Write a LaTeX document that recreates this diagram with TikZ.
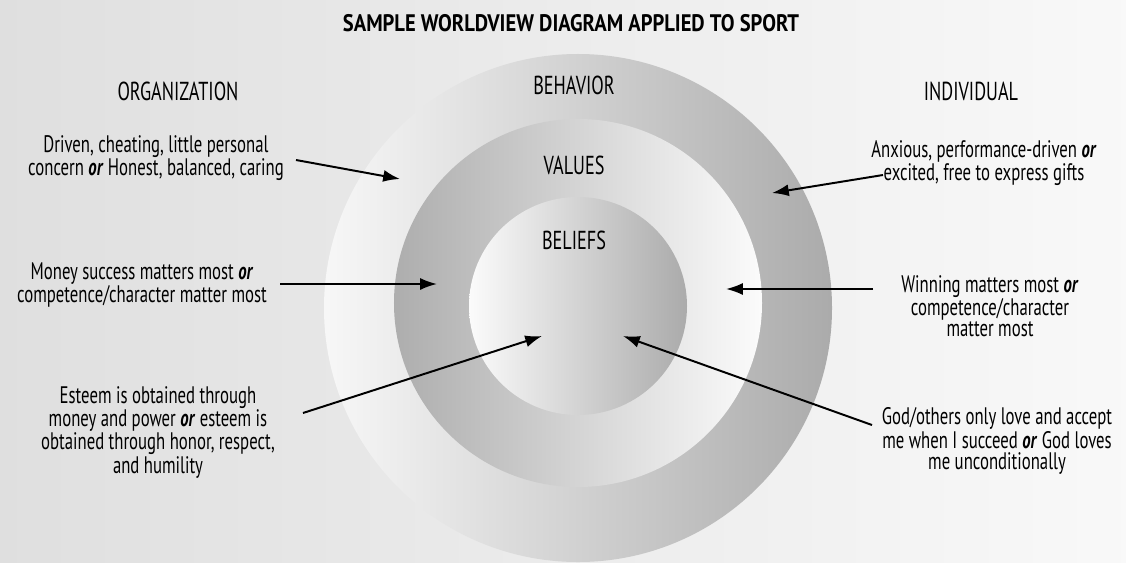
\documentclass[tikz,border=0pt]{standalone}
\usepackage{fontspec}
\setmainfont{PT Sans}[FakeStretch=0.70,BoldFeatures={FakeStretch=0.86}]
\usetikzlibrary{arrows.meta}
\newcommand{\boldor}{\textbf{\textit{or}}}

\begin{document}
\begin{tikzpicture}[x=0.25mm,y=-0.25mm]
    \tikzstyle{txt}=[align=center,inner sep=0pt,font=\fontsize{17}{15}\selectfont]
    \tikzstyle{head}=[inner sep=0pt,font=\fontsize{18.5}{15}\selectfont]
    \tikzstyle{arr}=[line width=1.4pt,-{Latex[length=4.2mm,width=3mm]}]

    \useasboundingbox (0,0) rectangle (1126,563);
    \shade[left color=gray!25,right color=gray!5] (0,0) rectangle (1126,563);

    \coordinate (o1) at (578,308);
    \coordinate (o2) at (578,303);
    \coordinate (o3) at (578,306);

    \begin{scope}
    \clip (0,0) rectangle (1126,563);
    \shade[left color=gray!6,right color=gray!66] (o1) circle (63.5mm);
    \shade[left color=gray!64,right color=gray!3] (o2) circle (46mm);
    \shade[left color=gray!3,right color=gray!66] (o3) circle (27.25mm);
    \end{scope}

    \node (title)[inner sep=0pt,font=\fontsize{17}{15}\selectfont\bfseries] at (571,23.5) {SAMPLE WORLDVIEW DIAGRAM APPLIED TO SPORT};
    \node (org)[head] at (178,91) {ORGANIZATION};
    \node (ind)[head] at (971,91) {INDIVIDUAL};
    \node (beh)[head] at (574,85) {BEHAVIOR};
    \node (val)[head] at (574,165) {VALUES};
    \node (bel)[head] at (574,240) {BELIEFS};

    \node (d1)[txt] at (156,158) {Driven, cheating, little personal\\concern \boldor{} Honest, balanced, caring};
    \node (d2)[txt] at (142,285) {Money success matters most \boldor\\competence/character matter most};
    \node (d3)[txt] at (158,432) {Esteem is obtained through\\money and power \boldor{} esteem is\\obtained through honor, respect,\\and humility};
    \node (d4)[txt] at (984,163) {Anxious, performance-driven \boldor\\excited, free to express gifts};
    \node (d5)[txt] at (990,306) {Winning matters most \boldor\\competence/character\\matter most};
    \node (d6)[txt] at (997,441) {God/others only love and accept\\me when I succeed \boldor{} God loves\\me unconditionally};

    \coordinate (s1) at (296,160);
    \coordinate (e1) at (400,179);
    \coordinate (s2) at (280,284);
    \coordinate (e2) at (437,284);
    \coordinate (s3) at (303,413);
    \coordinate (e3) at (542,336);
    \coordinate (s4) at (883,175);
    \coordinate (e4) at (772,193);
    \coordinate (s5) at (873,289);
    \coordinate (e5) at (726,289);
    \coordinate (s6) at (872,425);
    \coordinate (e6) at (623,336);

    \draw[arr] (s1) -- (e1);
    \draw[arr] (s2) -- (e2);
    \draw[arr] (s3) -- (e3);
    \draw[arr] (s4) -- (e4);
    \draw[arr] (s5) -- (e5);
    \draw[arr] (s6) -- (e6);
\end{tikzpicture}
\end{document}
